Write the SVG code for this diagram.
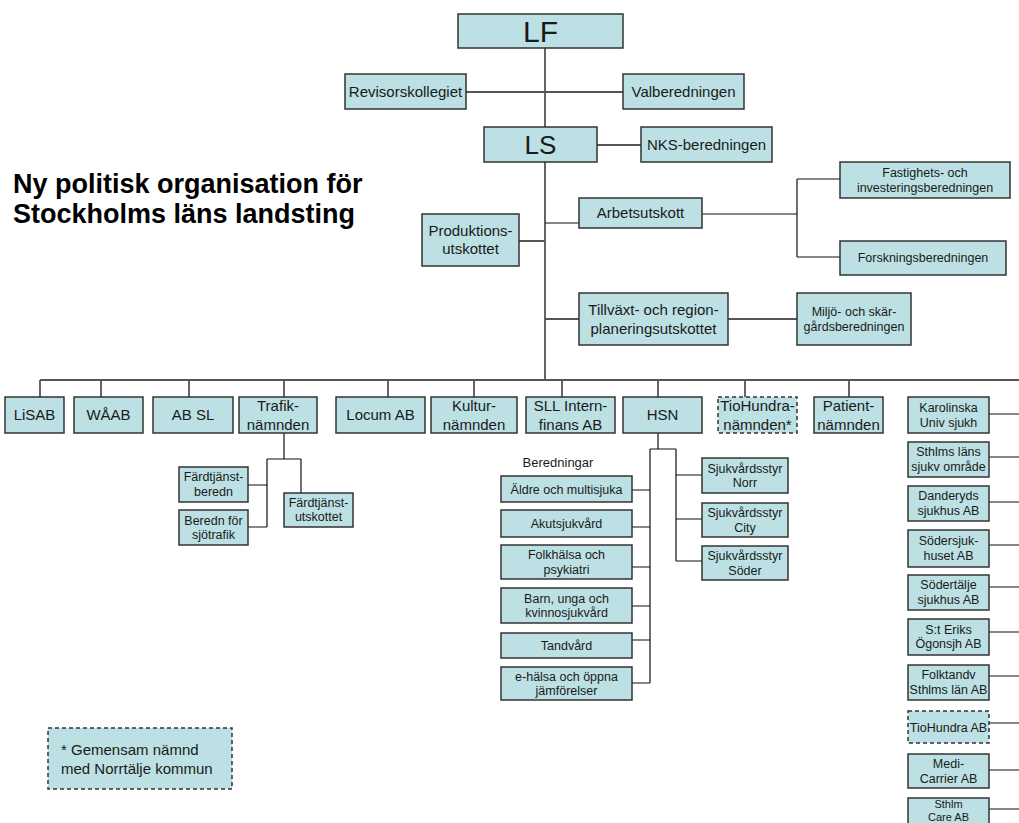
<svg xmlns="http://www.w3.org/2000/svg" width="1019" height="823" viewBox="0 0 1019 823">
<style>
.b{fill:#bce0e3;stroke:#333;stroke-width:1.5}
.d{fill:#bce0e3;stroke:#333;stroke-width:1.5;stroke-dasharray:4 3}
text{font-family:"Liberation Sans",Arial,sans-serif;fill:#1a1a1a;text-anchor:middle}
.f15{font-size:15px}
.f12{font-size:12.5px}
.g{stroke:#555;stroke-width:1.8;fill:none}
.k{stroke:#111;stroke-width:1.2;fill:none}
.title{font-size:27px;font-weight:bold;text-anchor:start;fill:#000}
</style>
<rect width="1019" height="823" fill="#fff"/>

<g id="title">
<text class="title" x="13" y="193">Ny politisk organisation för</text>
<text class="title" x="13" y="223">Stockholms läns landsting</text>
</g>

<g id="connectors">
<path class="g" d="M545 48V127M466 92H623M597 145H641M545 162V380"/>
<path class="g" d="M519 241H545M545 319H579M728 319H797"/>
<path class="k" d="M545 223H579M702 214H797M797 179V257M797 179H840M797 257H840"/>
<path class="g" d="M40 380H1019M40 380V397M101 380V397M189 380V397M284 380V397M388 380V397M474 380V397M562 380V397M658 380V397M745 380V397M849 380V397"/>
<path class="k" d="M284 433V459M267 459H301M267 459V527M301 459V493M248 485H267M248 527H267"/>
<path class="k" d="M658 433V449M650 449H676M650 449V683M676 449V561M632 490H650M632 527H650M632 567H650M632 606H650M632 640H650M632 683H650M676 475H702M676 519H702M676 561H702"/>
<path class="k" d="M989 414H1019M989 457H1019M989 502H1019M989 545H1019M989 587H1019M989 632H1019M989 676H1019M989 723H1019M989 770H1019M989 809H1019"/>
</g>

<g id="LF"><rect class="b" x="458" y="14" width="165" height="34"/><text x="540.5" y="42" style="font-size:30px">LF</text></g>
<g id="Revisorskollegiet"><rect class="b" x="345" y="74" width="121" height="35"/><text class="f15" x="405.5" y="97">Revisorskollegiet</text></g>
<g id="Valberedningen"><rect class="b" x="623" y="74" width="121" height="35"/><text class="f15" x="683.5" y="97">Valberedningen</text></g>
<g id="LS"><rect class="b" x="484" y="127" width="113" height="35"/><text x="540.5" y="153.5" style="font-size:26px">LS</text></g>
<g id="NKS"><rect class="b" x="641" y="127" width="131" height="35"/><text class="f15" x="706.5" y="150">NKS-beredningen</text></g>

<g id="Arbetsutskott"><rect class="b" x="579" y="198" width="123" height="30"/><text class="f15" x="640.5" y="218">Arbetsutskott</text></g>
<g id="Fastighets"><rect class="b" x="840" y="162" width="170" height="36"/><text class="f12" x="925" y="177">Fastighets- och</text><text class="f12" x="925" y="191.5">investeringsberedningen</text></g>
<g id="Forskning"><rect class="b" x="840" y="241" width="166" height="34"/><text class="f12" x="923" y="262">Forskningsberedningen</text></g>
<g id="Produktion"><rect class="b" x="422" y="214" width="97" height="52"/><text class="f15" x="470.5" y="236">Produktions-</text><text class="f15" x="470.5" y="254">utskottet</text></g>
<g id="Tillvaxt"><rect class="b" x="579" y="293" width="149" height="52"/><text class="f15" x="653.5" y="315">Tillväxt- och region-</text><text class="f15" x="653.5" y="334">planeringsutskottet</text></g>
<g id="Miljo"><rect class="b" x="797" y="293" width="114" height="52"/><text class="f12" x="854" y="316">Miljö- och skär-</text><text class="f12" x="854" y="330.5">gårdsberedningen</text></g>

<g id="LiSAB"><rect class="b" x="5" y="397" width="59" height="36"/><text class="f15" x="34.5" y="420">LiSAB</text></g>
<g id="WAAB"><rect class="b" x="74" y="397" width="69" height="36"/><text class="f15" x="108.5" y="420">WÅAB</text></g>
<g id="ABSL"><rect class="b" x="153" y="397" width="80" height="36"/><text class="f15" x="193" y="420">AB SL</text></g>
<g id="Trafik"><rect class="b" x="239" y="397" width="78" height="36"/><text class="f15" x="278" y="411">Trafik-</text><text class="f15" x="278" y="430">nämnden</text></g>
<g id="Locum"><rect class="b" x="336" y="397" width="89" height="36"/><text class="f15" x="380.5" y="420">Locum AB</text></g>
<g id="Kultur"><rect class="b" x="431" y="397" width="86" height="36"/><text class="f15" x="474" y="411">Kultur-</text><text class="f15" x="474" y="430">nämnden</text></g>
<g id="SLL"><rect class="b" x="526" y="397" width="89" height="36"/><text class="f15" x="570.5" y="411">SLL Intern-</text><text class="f15" x="570.5" y="430">finans AB</text></g>
<g id="HSN"><rect class="b" x="623" y="397" width="79" height="36"/><text class="f15" x="662.5" y="420">HSN</text></g>
<g id="TioHundraNamnd"><rect class="d" x="718" y="397" width="79" height="36"/><text class="f15" x="757.5" y="411">TioHundra-</text><text class="f15" x="757.5" y="430">nämnden*</text></g>
<g id="Patient"><rect class="b" x="814" y="397" width="69" height="36"/><text class="f15" x="848.5" y="411">Patient-</text><text class="f15" x="848.5" y="430">nämnden</text></g>

<g id="FardtjanstBeredn"><rect class="b" x="179" y="467" width="69" height="35"/><text class="f12" x="213.5" y="481">Färdtjänst-</text><text class="f12" x="213.5" y="496">beredn</text></g>
<g id="BerednSjotrafik"><rect class="b" x="179" y="510" width="69" height="35"/><text class="f12" x="213.5" y="524.5">Beredn för</text><text class="f12" x="213.5" y="539">sjötrafik</text></g>
<g id="FardtjanstUtskottet"><rect class="b" x="284" y="493" width="69" height="34"/><text class="f12" x="318.5" y="507">Färdtjänst-</text><text class="f12" x="318.5" y="521">utskottet</text></g>

<g id="Beredningar"><text x="558" y="467" style="font-size:13px">Beredningar</text></g>
<g id="Aldre"><rect class="b" x="501" y="476" width="131" height="26"/><text class="f12" x="566.5" y="493.5">Äldre och multisjuka</text></g>
<g id="Akut"><rect class="b" x="501" y="510" width="131" height="27"/><text class="f12" x="566.5" y="528">Akutsjukvård</text></g>
<g id="Folkhalsa"><rect class="b" x="501" y="545" width="131" height="34"/><text class="f12" x="566.5" y="559">Folkhälsa och</text><text class="f12" x="566.5" y="573.5">psykiatri</text></g>
<g id="Barn"><rect class="b" x="501" y="588" width="131" height="35"/><text class="f12" x="566.5" y="602.5">Barn, unga och</text><text class="f12" x="566.5" y="617">kvinnosjukvård</text></g>
<g id="Tandvard"><rect class="b" x="501" y="633" width="131" height="25"/><text class="f12" x="566.5" y="650">Tandvård</text></g>
<g id="eHalsa"><rect class="b" x="501" y="667" width="131" height="33"/><text class="f12" x="566.5" y="680.5">e-hälsa och öppna</text><text class="f12" x="566.5" y="695">jämförelser</text></g>

<g id="Norr"><rect class="b" x="702" y="458" width="86" height="35"/><text class="f12" x="745" y="472.5">Sjukvårdsstyr</text><text class="f12" x="745" y="487">Norr</text></g>
<g id="City"><rect class="b" x="702" y="503" width="86" height="34"/><text class="f12" x="745" y="517">Sjukvårdsstyr</text><text class="f12" x="745" y="531.5">City</text></g>
<g id="Soder"><rect class="b" x="702" y="546" width="86" height="34"/><text class="f12" x="745" y="560">Sjukvårdsstyr</text><text class="f12" x="745" y="574.5">Söder</text></g>

<g id="Karolinska"><rect class="b" x="908" y="397" width="81" height="36"/><text class="f12" x="948.5" y="412">Karolinska</text><text class="f12" x="948.5" y="426.5">Univ sjukh</text></g>
<g id="SthlmsLans"><rect class="b" x="908" y="442" width="81" height="35"/><text class="f12" x="948.5" y="456">Sthlms läns</text><text class="f12" x="948.5" y="470.5">sjukv område</text></g>
<g id="Danderyd"><rect class="b" x="908" y="486" width="81" height="35"/><text class="f12" x="948.5" y="500">Danderyds</text><text class="f12" x="948.5" y="514.5">sjukhus AB</text></g>
<g id="Sodersjukhuset"><rect class="b" x="908" y="530" width="81" height="37"/><text class="f12" x="948.5" y="545">Södersjuk-</text><text class="f12" x="948.5" y="559.5">huset AB</text></g>
<g id="Sodertalje"><rect class="b" x="908" y="575" width="81" height="35"/><text class="f12" x="948.5" y="589">Södertälje</text><text class="f12" x="948.5" y="603.5">sjukhus AB</text></g>
<g id="StEriks"><rect class="b" x="908" y="619" width="81" height="36"/><text class="f12" x="948.5" y="633.5">S:t Eriks</text><text class="f12" x="948.5" y="648">Ögonsjh AB</text></g>
<g id="Folktandv"><rect class="b" x="908" y="665" width="81" height="35"/><text class="f12" x="948.5" y="679">Folktandv</text><text class="f12" x="948.5" y="693.5">Sthlms län AB</text></g>
<g id="TioHundraAB"><rect class="d" x="908" y="711" width="81" height="32"/><text class="f12" x="948.5" y="731.5">TioHundra AB</text></g>
<g id="MediCarrier"><rect class="b" x="908" y="754" width="81" height="34"/><text class="f12" x="948.5" y="768">Medi-</text><text class="f12" x="948.5" y="782.5">Carrier AB</text></g>
<g id="SthlmCare"><rect class="b" x="908" y="798" width="81" height="36"/><text x="948.5" y="808" style="font-size:11px">Sthlm</text><text x="948.5" y="820.5" style="font-size:11px">Care AB</text></g>

<g id="Footnote"><rect class="d" x="48" y="728" width="184" height="61"/><text class="f15" x="61" y="755" style="text-anchor:start">* Gemensam nämnd</text><text class="f15" x="61" y="774" style="text-anchor:start">med Norrtälje kommun</text></g>
</svg>
